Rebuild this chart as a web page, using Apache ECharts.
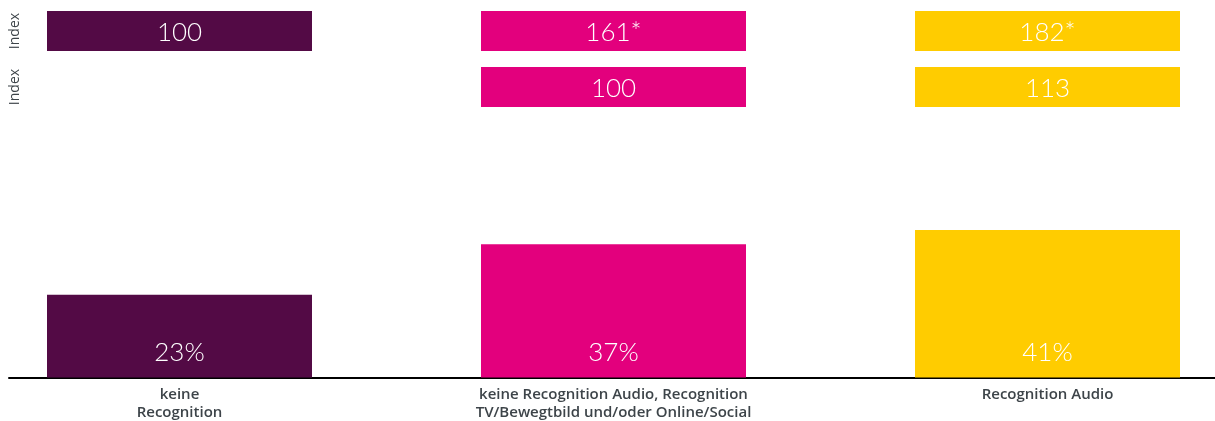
<!DOCTYPE html>
<html>
<head>
<meta charset="utf-8">
<script src="https://cdn.jsdelivr.net/npm/echarts@6/dist/echarts.min.js"></script>
<style>
  html, body { margin: 0; padding: 0; background: #fff; }
  #chart { width: 1215px; height: 421px; }
</style>
</head>
<body>
<div id="chart"></div>
<script>
// Groups along the x axis
const categories = [
  'keine\nRecognition',
  'keine Recognition Audio, Recognition\nTV/Bewegtbild und/oder Online/Social',
  'Recognition Audio'
];
// Share per group, in percent
const shares = [23, 37, 41];
// Index values shown in the two boxed rows above the bars
const indexRowTop = ['100', '161*', '182*'];
const indexRowBottom = [null, '100', '113'];
const indexRowNames = ['Index', 'Index'];
const groupColors = ['#530A45', '#E3007D', '#FFCC00'];

const chart = echarts.init(document.getElementById('chart'));

const valueFont = { fontFamily: 'Lato', fontWeight: 300, fontSize: 26, color: '#fff' };

// Index boxes: one point per (group, row)
const indexPoints = [];
[indexRowTop, indexRowBottom].forEach((row, r) => {
  row.forEach((v, c) => {
    if (v !== null) {
      indexPoints.push({
        value: [c, r, v],
        itemStyle: { color: groupColors[c], opacity: 1 }
      });
    }
  });
});

chart.setOption({
  animation: false,
  grid: [
    // main bars
    { left: -37.5, width: 1302, top: 89.5, height: 288, outerBoundsMode: 'none', containLabel: false },
    // baseline
    { left: 9, right: 0, top: 377.5, height: 0, outerBoundsMode: 'none', containLabel: false },
    // index rows
    { left: -37.5, width: 1302, top: 3, height: 112, outerBoundsMode: 'none', containLabel: false }
  ],
  xAxis: [
    {
      gridIndex: 0, type: 'category', data: categories,
      axisLine: { show: false }, axisTick: { show: false },
      axisLabel: {
        margin: 8, fontFamily: 'Open Sans', fontWeight: 600, fontSize: 15,
        lineHeight: 18, color: '#3d4449', interval: 0
      }
    },
    {
      gridIndex: 1, type: 'value', min: 0, max: 1,
      axisLine: { show: true, lineStyle: { color: '#000', width: 2 } },
      axisTick: { show: false }, axisLabel: { show: false }, splitLine: { show: false }
    },
    {
      gridIndex: 2, type: 'category', data: categories, show: false
    }
  ],
  yAxis: [
    { gridIndex: 0, type: 'value', min: 0, max: 80, show: false },
    { gridIndex: 1, type: 'value', show: false },
    {
      gridIndex: 2, type: 'category', data: indexRowNames, inverse: true,
      offset: -53,
      axisLine: { show: false }, axisTick: { show: false }, splitLine: { show: false },
      axisLabel: {
        rotate: 90, margin: 0, align: 'center', verticalAlign: 'middle',
        fontFamily: 'Open Sans', fontWeight: 'normal', fontSize: 14, color: '#3d4449', interval: 0
      }
    }
  ],
  series: [
    {
      type: 'bar', xAxisIndex: 0, yAxisIndex: 0,
      barWidth: 265,
      data: shares.map((v, i) => ({ value: v, itemStyle: { color: groupColors[i] } })),
      label: {
        show: true, position: 'insideBottom', distance: 12,
        formatter: '{c}%', ...valueFont
      }
    },
    {
      type: 'scatter', xAxisIndex: 2, yAxisIndex: 2,
      symbol: 'rect', symbolSize: [265, 40],
      data: indexPoints,
      emphasis: { disabled: true },
      label: {
        show: true, position: 'inside', offset: [0, 2],
        formatter: p => p.value[2], ...valueFont
      }
    }
  ]
});
</script>
</body>
</html>
